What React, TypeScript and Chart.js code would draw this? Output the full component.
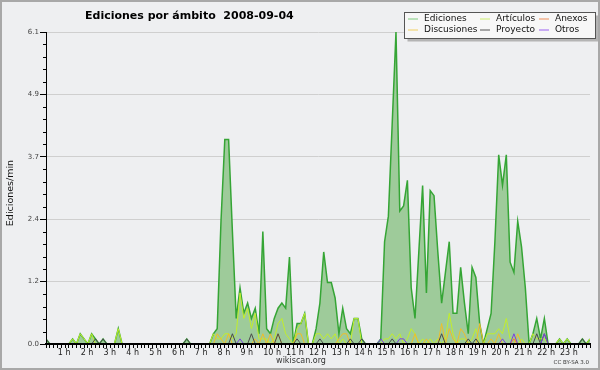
import React, { useEffect, useRef } from "react";
import { Chart, registerables } from "chart.js";

Chart.register(...registerables);

// 10-minute slots, 6 per hour, 144 in the day
const hourLabels = ["", "1 h", "2 h", "3 h", "4 h", "5 h", "6 h", "7 h", "8 h", "9 h", "10 h", "11 h",
  "12 h", "13 h", "14 h", "15 h", "16 h", "17 h", "18 h", "19 h", "20 h", "21 h", "22 h", "23 h"];
const yTicks = [0, 1.22, 2.44, 3.66, 4.88, 6.1];
const yMax = 6.1;

const ediciones = [
  0.1, 0, 0, 0, 0, 0,
  0, 0.1, 0, 0.2, 0.1, 0,
  0.2, 0.1, 0, 0.1, 0, 0,
  0, 0.3, 0, 0, 0, 0,
  0, 0, 0, 0, 0, 0,
  0, 0, 0, 0, 0, 0,
  0, 0.1, 0, 0, 0, 0,
  0, 0, 0.2, 0.3, 2.4, 4.0,
  4.0, 2.2, 0.5, 1.1, 0.6, 0.8,
  0.5, 0.7, 0.2, 2.2, 0.3, 0.2,
  0.5, 0.7, 0.8, 0.7, 1.7, 0,
  0.4, 0.4, 0.6, 0, 0, 0.3,
  0.8, 1.8, 1.2, 1.2, 0.9, 0.2,
  0.7, 0.3, 0.2, 0.5, 0.5, 0.1,
  0, 0, 0, 0, 0.1, 2.0,
  2.5, 4.3, 6.1, 2.6, 2.7, 3.2,
  1.1, 0.5, 1.8, 3.1, 1.0, 3.0,
  2.9, 1.8, 0.8, 1.4, 2.0, 0.6,
  0.6, 1.5, 0.8, 0.2, 1.5, 1.3,
  0.4, 0, 0.3, 0.6, 2.0, 3.7,
  3.1, 3.7, 1.6, 1.4, 2.4, 1.9,
  1.1, 0, 0.2, 0.5, 0.1, 0.5,
  0, 0, 0, 0.1, 0, 0.1,
  0, 0, 0, 0.1, 0, 0.1,
];

const articulos = [
  0, 0, 0, 0, 0, 0,
  0, 0.1, 0, 0.2, 0.1, 0,
  0.2, 0, 0, 0, 0, 0,
  0, 0.3, 0, 0, 0, 0,
  0, 0, 0, 0, 0, 0,
  0, 0, 0, 0, 0, 0,
  0, 0, 0, 0, 0, 0,
  0, 0, 0.2, 0.1, 0.1, 0.2,
  0.2, 0.1, 0.2, 1.0, 0.5, 0.7,
  0.3, 0.6, 0.1, 0.1, 0.1, 0,
  0.1, 0.4, 0.5, 0.2, 0.1, 0,
  0.3, 0.4, 0.6, 0, 0, 0.2,
  0.2, 0.1, 0.2, 0.1, 0.2, 0,
  0.1, 0, 0, 0.5, 0.5, 0,
  0, 0, 0, 0, 0, 0.1,
  0.1, 0.2, 0.1, 0.2, 0, 0.1,
  0.3, 0.2, 0, 0.1, 0, 0.1,
  0, 0.1, 0, 0.1, 0.6, 0.2,
  0, 0.1, 0.1, 0, 0.1, 0.3,
  0, 0, 0.2, 0.2, 0.2, 0.3,
  0.2, 0.5, 0.1, 0.1, 0, 0.1,
  0, 0, 0.2, 0.1, 0.1, 0.1,
  0, 0, 0, 0.1, 0, 0.1,
  0, 0, 0, 0, 0, 0.1,
];

const anexos = [
  0, 0, 0, 0, 0, 0,  0, 0, 0, 0, 0, 0,
  0, 0, 0, 0, 0, 0,  0, 0, 0, 0, 0, 0,
  0, 0, 0, 0, 0, 0,  0, 0, 0, 0, 0, 0,
  0, 0, 0, 0, 0, 0,  0, 0, 0, 0, 0, 0,
  0, 0, 0, 0, 0, 0,  0, 0, 0, 0, 0, 0,
  0, 0, 0, 0, 0, 0,  0, 0, 0, 0, 0, 0,
  0, 0, 0, 0, 0, 0,  0, 0, 0, 0, 0, 0,
  0, 0, 0, 0, 0, 0,  0, 0, 0, 0, 0, 0,
  0, 0, 0, 0, 0, 0,  0, 0, 0, 0, 0, 0,
  0, 0, 0, 0, 0, 0,  0, 0, 0, 0, 0, 0,
  0, 0, 0, 0.1, 0, 0,  0, 0, 0, 0, 0, 0,
  0, 0, 0, 0, 0, 0,  0, 0, 0, 0, 0, 0,
];

const discusiones = [
  0, 0, 0, 0, 0, 0,  0, 0, 0, 0, 0, 0,
  0, 0, 0, 0, 0, 0,  0, 0, 0, 0, 0, 0,
  0, 0, 0, 0, 0, 0,  0, 0, 0, 0, 0, 0,
  0, 0, 0, 0, 0, 0,  0, 0, 0, 0.2, 0.1, 0,
  0.2, 0, 0, 0, 0, 0,  0, 0.1, 0, 0.2, 0, 0.2,
  0, 0.2, 0, 0, 0, 0,  0.2, 0.2, 0, 0, 0, 0,
  0, 0, 0, 0, 0, 0.1,  0.2, 0.2, 0, 0, 0, 0,
  0, 0, 0, 0, 0, 0,  0, 0, 0, 0, 0, 0,
  0, 0.2, 0, 0, 0.1, 0,  0, 0, 0.4, 0, 0.3, 0.1,
  0, 0.3, 0.2, 0, 0, 0,  0.4, 0, 0, 0.1, 0, 0.2,
  0, 0, 0, 0, 0.2, 0,  0, 0, 0, 0, 0, 0,
  0, 0, 0, 0, 0, 0,  0, 0, 0, 0, 0, 0,
];

const proyecto = [
  0.1, 0, 0, 0, 0, 0,  0, 0, 0, 0, 0, 0,
  0, 0.1, 0, 0.1, 0, 0,  0, 0, 0, 0, 0, 0,
  0, 0, 0, 0, 0, 0,  0, 0, 0, 0, 0, 0,
  0, 0.1, 0, 0, 0, 0,  0, 0, 0, 0, 0, 0,
  0, 0.2, 0, 0, 0, 0,  0.2, 0, 0, 0, 0, 0,
  0, 0.2, 0, 0, 0, 0,  0.1, 0, 0, 0, 0, 0,
  0.1, 0, 0, 0, 0, 0,  0, 0, 0.1, 0, 0, 0.1,
  0, 0, 0, 0, 0, 0,  0, 0.1, 0, 0, 0, 0,
  0, 0, 0, 0, 0, 0,  0, 0, 0.2, 0, 0, 0,
  0, 0, 0, 0.1, 0, 0.1,  0, 0, 0, 0, 0, 0,
  0, 0, 0, 0, 0, 0,  0, 0, 0, 0.2, 0, 0.2,
  0, 0, 0, 0, 0, 0,  0, 0, 0, 0.1, 0, 0,
];

const otros = [
  0, 0, 0, 0, 0, 0,  0, 0, 0, 0, 0, 0,
  0, 0, 0, 0, 0, 0,  0, 0, 0, 0, 0, 0,
  0, 0, 0, 0, 0, 0,  0, 0, 0, 0, 0, 0,
  0, 0, 0, 0, 0, 0,  0, 0, 0, 0, 0, 0,
  0, 0, 0, 0.1, 0, 0,  0, 0, 0, 0, 0, 0,
  0, 0, 0, 0, 0, 0,  0, 0, 0, 0, 0, 0,
  0, 0, 0, 0, 0, 0,  0, 0, 0, 0, 0, 0,
  0, 0, 0, 0, 0.1, 0,  0, 0, 0, 0.1, 0.1, 0,
  0, 0, 0, 0, 0, 0,  0, 0, 0, 0, 0, 0,
  0, 0, 0, 0, 0, 0,  0, 0, 0, 0, 0, 0,
  0.1, 0, 0, 0.2, 0, 0,  0, 0, 0, 0, 0, 0.2,
  0, 0, 0, 0, 0, 0,  0, 0, 0, 0, 0, 0,
];

const slots = ediciones.map((_, i) => i);

const FONT = "'DejaVu Sans', 'Liberation Sans', sans-serif";

const decorPlugin = {
  id: "decor",
  beforeDraw(chart: any) {
    const ctx = chart.ctx;
    ctx.save();
    ctx.fillStyle = "#eeeff1";
    ctx.fillRect(0, 0, chart.width, chart.height);
    ctx.restore();
  },
  afterDraw(chart: any) {
    const ctx = chart.ctx;
    const ys = chart.scales.y;
    const area = chart.chartArea;
    ctx.save();
    // minor y ticks
    ctx.strokeStyle = "#000";
    ctx.lineWidth = 1;
    const step = yMax / 25;
    for (let k = 1; k < 25; k++) {
      if (k % 5 === 0) continue;
      const py = Math.round(ys.getPixelForValue(step * k)) + 0.5;
      ctx.beginPath();
      ctx.moveTo(area.left - 3, py);
      ctx.lineTo(area.left, py);
      ctx.stroke();
    }
    // title
    ctx.fillStyle = "#000";
    ctx.font = `bold 11px ${FONT}`;
    ctx.textAlign = "left";
    ctx.textBaseline = "alphabetic";
    ctx.fillText("Ediciones por ámbito  2008-09-04", 85, 18.5);
    // y axis title
    ctx.save();
    ctx.translate(13, 193);
    ctx.rotate(-Math.PI / 2);
    ctx.font = `9.5px ${FONT}`;
    ctx.textAlign = "center";
    ctx.textBaseline = "alphabetic";
    ctx.fillStyle = "#111";
    ctx.fillText("Ediciones/min", 0, 0);
    ctx.restore();
    // footer
    ctx.font = `8px ${FONT}`;
    ctx.fillStyle = "#333";
    ctx.textAlign = "center";
    ctx.fillText("wikiscan.org", 301, 363);
    ctx.font = `5.5px ${FONT}`;
    ctx.textAlign = "right";
    ctx.fillText("CC BY-SA 3.0", 589, 364);
    // legend box
    const bx = 404.5, by = 12.5, bw = 191, bh = 26;
    ctx.fillStyle = "#b4b4b4";
    ctx.fillRect(bx + 3, by + 3, bw, bh);
    ctx.fillStyle = "#f7f7f7";
    ctx.fillRect(bx, by, bw, bh);
    ctx.strokeStyle = "#555";
    ctx.lineWidth = 1;
    ctx.strokeRect(bx, by, bw, bh);
    const colX = [408, 480, 539];
    const rowY = [18.5, 29.5];
    ctx.font = `9px ${FONT}`;
    ctx.textAlign = "left";
    ctx.textBaseline = "middle";
    chart.data.datasets.forEach((ds: any, k: number) => {
      const cx = colX[k % 3];
      const cy = rowY[Math.floor(k / 3)];
      ctx.strokeStyle = ds.legendColor;
      ctx.beginPath();
      ctx.moveTo(cx, cy + 0.5);
      ctx.lineTo(cx + 10, cy + 0.5);
      ctx.stroke();
      ctx.fillStyle = "#111";
      ctx.fillText(ds.label, cx + 16, cy + 0.5);
    });
    // frame
    ctx.strokeStyle = "#a8a8a8";
    ctx.lineWidth = 2;
    ctx.strokeRect(1, 1, chart.width - 2, chart.height - 2);
    ctx.restore();
  },
};

function lineDs(label: string, data: number[], color: string, legendColor: string, order: number) {
  return {
    label,
    data,
    borderColor: color,
    legendColor,
    borderWidth: 1,
    pointRadius: 0,
    fill: false,
    tension: 0,
    order,
  };
}

export default function App() {
  const ref = useRef<HTMLCanvasElement | null>(null);
  useEffect(() => {
    document.body.style.margin = "0";
    const canvas = ref.current;
    if (!canvas) return;
    const chart = new Chart(canvas, {
      type: "line",
      data: {
        labels: slots,
        datasets: [
          {
            label: "Ediciones",
            data: ediciones,
            borderColor: "#35a535",
            legendColor: "#7fcc7f",
            backgroundColor: "#9ecb9a",
            borderWidth: 1.5,
            pointRadius: 0,
            fill: "origin",
            tension: 0,
            order: 10,
          } as any,
          lineDs("Artículos", articulos, "#c2ee2c", "#cdee70", 5),
          lineDs("Anexos", anexos, "#ef7f3a", "#ef8f5a", 3),
          lineDs("Discusiones", discusiones, "#f0be28", "#f0cf60", 4),
          lineDs("Proyecto", proyecto, "#4a4a4a", "#555555", 2),
          lineDs("Otros", otros, "#7b3fe0", "#9a60f0", 1),
        ],
      },
      options: {
        responsive: false,
        animation: false,
        devicePixelRatio: 1,
        layout: { padding: { top: 32, right: 10, left: 0, bottom: 0 } },
        plugins: { legend: { display: false }, tooltip: { enabled: false }, title: { display: false } },
        scales: {
          x: {
            type: "linear",
            min: 0,
            max: slots.length - 1,
            afterBuildTicks: (s: any) => {
              s.ticks = slots.map((v) => ({ value: v }));
            },
            afterFit: (s: any) => {
              s.height = 26;
            },
            ticks: {
              autoSkip: false,
              maxRotation: 0,
              minRotation: 0,
              align: "start",
              labelOffset: -11,
              padding: 0,
              color: "#222",
              font: { family: FONT, size: 8 },
              callback: (v: any) => (v % 6 === 0 ? hourLabels[v / 6] : ""),
            },
            grid: { drawOnChartArea: false, drawTicks: true, tickLength: 4, tickColor: "#000", tickWidth: 1 },
            border: { display: true, color: "#000", width: 2, z: 1 },
          },
          y: {
            type: "linear",
            min: 0,
            max: yMax,
            afterBuildTicks: (s: any) => {
              s.ticks = yTicks.map((v) => ({ value: v }));
            },
            afterFit: (s: any) => {
              s.width = 46;
            },
            ticks: {
              padding: 1,
              color: "#444",
              font: { family: FONT, size: 7 },
              callback: (v: any) => Number(v).toFixed(1),
            },
            grid: { color: "#cfcfcf", lineWidth: 1, drawTicks: true, tickLength: 6, tickColor: "#000" },
            border: { display: true, color: "#000", width: 1, z: 1 },
          },
        },
      } as any,
      plugins: [decorPlugin],
    });
    return () => chart.destroy();
  }, []);
  return (
    <div style={{ width: 600, height: 370 }}>
      <canvas ref={ref} width={600} height={370} style={{ display: "block", width: 600, height: 370 }} />
    </div>
  );
}
